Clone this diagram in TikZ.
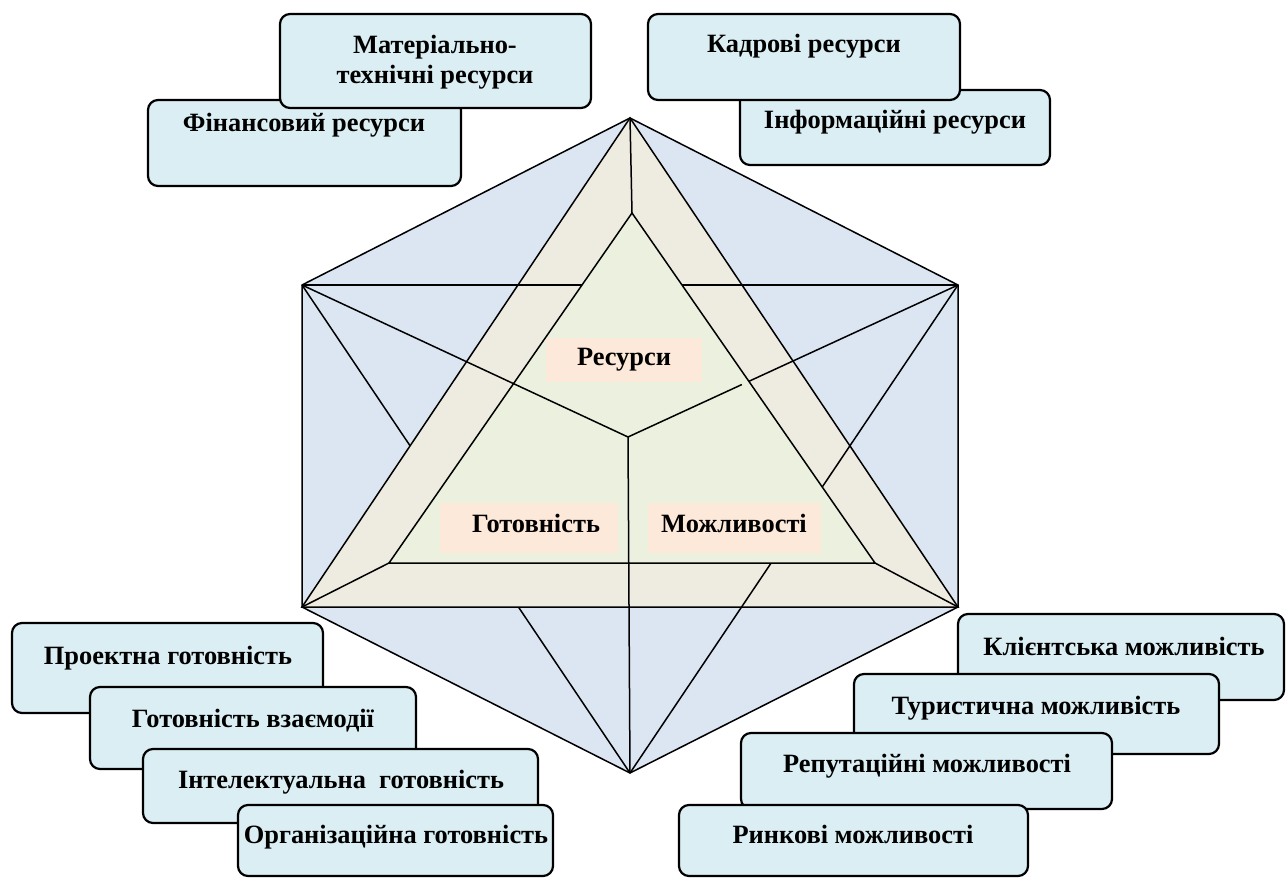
\documentclass[tikz,border=0pt]{standalone}
\usepackage{fontspec}
\setmainfont{Liberation Serif}
\usetikzlibrary{fit,calc}
\definecolor{hexblue}{HTML}{DCE6F2}
\definecolor{bandtan}{HTML}{EEECE1}
\definecolor{innergreen}{HTML}{EBF1DE}
\definecolor{peach}{HTML}{FDE9D9}
\definecolor{boxaqua}{HTML}{DAEEF3}
\begin{document}
\begin{tikzpicture}[x=0.5pt,y=-0.5pt,
  edge/.style={line width=0.75pt, line join=miter},
  rbox/.style={draw=black, line width=1.1pt, fill=boxaqua, rounded corners=5pt, inner sep=0pt},
  tagbox/.style={fill=peach, inner sep=0pt},
  lbl/.style={anchor=base, font=\fontsize{13.2}{15}\selectfont\bfseries, inner sep=0pt, align=center}]
\useasboundingbox (0,0) rectangle (1287,878);

% geometry
\coordinate (T) at (630,118);
\coordinate (UL) at (302,285);
\coordinate (UR) at (958,285);
\coordinate (LL) at (302,607);
\coordinate (LR) at (958,607);
\coordinate (B) at (630,773);
\coordinate (iT) at (632,213);
\coordinate (iL) at (389,563);
\coordinate (iR) at (875,563);
\coordinate (C) at (628,437);
\coordinate (P1) at ($(C)!0.345!(UR)$);
\coordinate (P2) at ($(C)!0.366!(UR)$);

% hexagon
\filldraw[edge, fill=hexblue] (T) -- (UR) -- (LR) -- (B) -- (LL) -- (UL) -- cycle;
\draw[edge] (UL) -- (B);
% outer triangle band
\filldraw[edge, fill=bandtan] (T) -- (LR) -- (LL) -- cycle;
\draw[edge] (UL) -- (UR);
\draw[edge] (UR) -- (B);
% inner triangle
\filldraw[edge, fill=innergreen] (iT) -- (iR) -- (iL) -- cycle;
\draw[edge] (T) -- (iT);
\draw[edge] (LL) -- (iL);
\draw[edge] (LR) -- (iR);
\draw[edge] (UL) -- (C) -- (B);
\draw[edge] (C) -- (P1);
\draw[edge] (P2) -- (UR);

% central labels
\node[tagbox, fit={(546,338) (702,382)}] (resbox) {};
\node[lbl] (restxt) at (624,365) {Ресурси};
\node[tagbox, fit={(440,503) (618,553)}] (gotbox) {};
\node[lbl] (gottxt) at (536,532) {Готовність};
\node[tagbox, fit={(648,503) (821,553)}] (mozhbox) {};
\node[lbl] (mozhtxt) at (734,532) {Можливості};

% top-left group
\node[rbox, fit={(148,100) (461,186)}] (fin) {};
\node[lbl] (fintxt) at (304,131) {Фінансовий ресурси};
\node[rbox, fit={(280,14) (591,108)}] (mat) {};
\node[lbl, anchor=north] (mattxt) at (435,35) {Матеріально-\\технічні ресурси};

% top-right group
\node[rbox, fit={(740,90) (1050,165)}] (inf) {};
\node[lbl] (inftxt) at (895,128) {Інформаційні ресурси};
\node[rbox, fit={(648,14) (960,100)}] (kad) {};
\node[lbl] (kadtxt) at (804,53) {Кадрові ресурси};

% bottom-left group
\node[rbox, fit={(12,623) (323,713)}] (proj) {};
\node[lbl] (projtxt) at (168,664) {Проектна готовність};
\node[rbox, fit={(90,687) (416,769)}] (vz) {};
\node[lbl] (vztxt) at (253,727) {Готовність взаємодії};
\node[rbox, fit={(143,749) (538,823)}] (int) {};
\node[lbl] (inttxt) at (341,788) {Інтелектуальна\ \ готовність};
\node[rbox, fit={(238,805) (553,876)}] (org) {};
\node[lbl] (orgtxt) at (396,843) {Організаційна готовність};

% bottom-right group
\node[rbox, fit={(958,614) (1284,700)}] (kl) {};
\node[lbl] (kltxt) at (1124,655) {Клієнтська можливість};
\node[rbox, fit={(854,674) (1219,754)}] (tur) {};
\node[lbl] (turtxt) at (1036,714) {Туристична можливість};
\node[rbox, fit={(741,733) (1112,809)}] (rep) {};
\node[lbl] (reptxt) at (927,772) {Репутаційні можливості};
\node[rbox, fit={(679,805) (1028,876)}] (rin) {};
\node[lbl] (rintxt) at (853,843) {Ринкові можливості};
\end{tikzpicture}
\end{document}
